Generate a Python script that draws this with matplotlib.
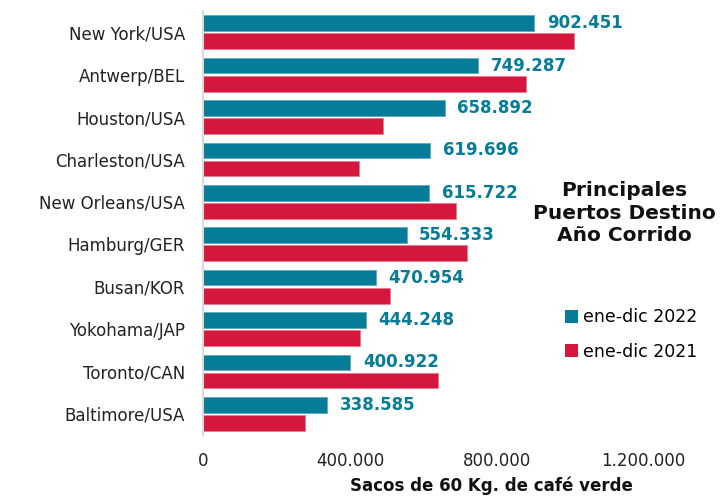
import matplotlib.pyplot as plt
from matplotlib.patches import Patch
import numpy as np

ports = ["New York/USA", "Antwerp/BEL", "Houston/USA", "Charleston/USA",
         "New Orleans/USA", "Hamburg/GER", "Busan/KOR", "Yokohama/JAP",
         "Toronto/CAN", "Baltimore/USA"]
vals_2022 = [902451, 749287, 658892, 619696, 615722, 554333, 470954, 444248, 400922, 338585]
vals_2021 = [1012000, 881000, 489000, 424000, 689000, 720000, 508000, 428000, 639000, 277000]
xticks = [0, 400000, 800000, 1200000]
xtick_labels = ["0", "400.000", "800.000", "1.200.000"]

teal = "#067c99"
red = "#d5173d"

fig = plt.figure(figsize=(7.26, 4.97), dpi=100)
ax = fig.add_axes([0.280, 0.1247, 0.606, 0.853])

y = np.arange(len(ports))
h = 0.37
off = 0.213
ax.barh(y - off, vals_2022, height=h, color=teal, edgecolor="#5fa9bd", linewidth=0.6)
ax.barh(y + off, vals_2021, height=h, color=red, edgecolor="#e87a90", linewidth=0.6)

for yi, v in zip(y, vals_2022):
    lab = f"{v:,}".replace(",", ".")
    ax.annotate(lab, (v, yi - off), xytext=(9, 0), textcoords="offset points",
                va="center", ha="left", fontsize=12, fontweight="bold", color=teal)

ax.set_ylim(len(ports) - 0.5, -0.5)
ax.set_xlim(0, 1200000)
ax.set_yticks(y)
ax.set_yticklabels(ports, fontsize=12, color="#222222")
ax.set_xticks(xticks)
ax.set_xticklabels(xtick_labels, fontsize=12, color="#222222")
ax.tick_params(axis="y", length=0, pad=13)
ax.tick_params(axis="x", length=0, pad=12)

for s in ["top", "right", "bottom"]:
    ax.spines[s].set_visible(False)
ax.spines["left"].set_color("#d9d9d9")
ax.spines["left"].set_linewidth(1.5)

fig.text(0.86, 0.571, "Principales\nPuertos Destino\nAño Corrido", ha="center", va="center",
         fontsize=14.5, fontweight="bold", color="#111111", linespacing=1.25)

handles = [Patch(facecolor=teal, label="ene-dic 2022"), Patch(facecolor=red, label="ene-dic 2021")]
fig.legend(handles=handles, loc="center left", bbox_to_anchor=(0.757, 0.327), frameon=False,
           fontsize=12.5, handlelength=0.75, handleheight=0.75, handletextpad=0.3, labelspacing=0.95)

fig.text(0.677, 0.004, "Sacos de 60 Kg. de café verde", ha="center", va="bottom",
         fontsize=12, fontweight="bold", color="#111111")

fig.savefig("out.png", dpi=100)
